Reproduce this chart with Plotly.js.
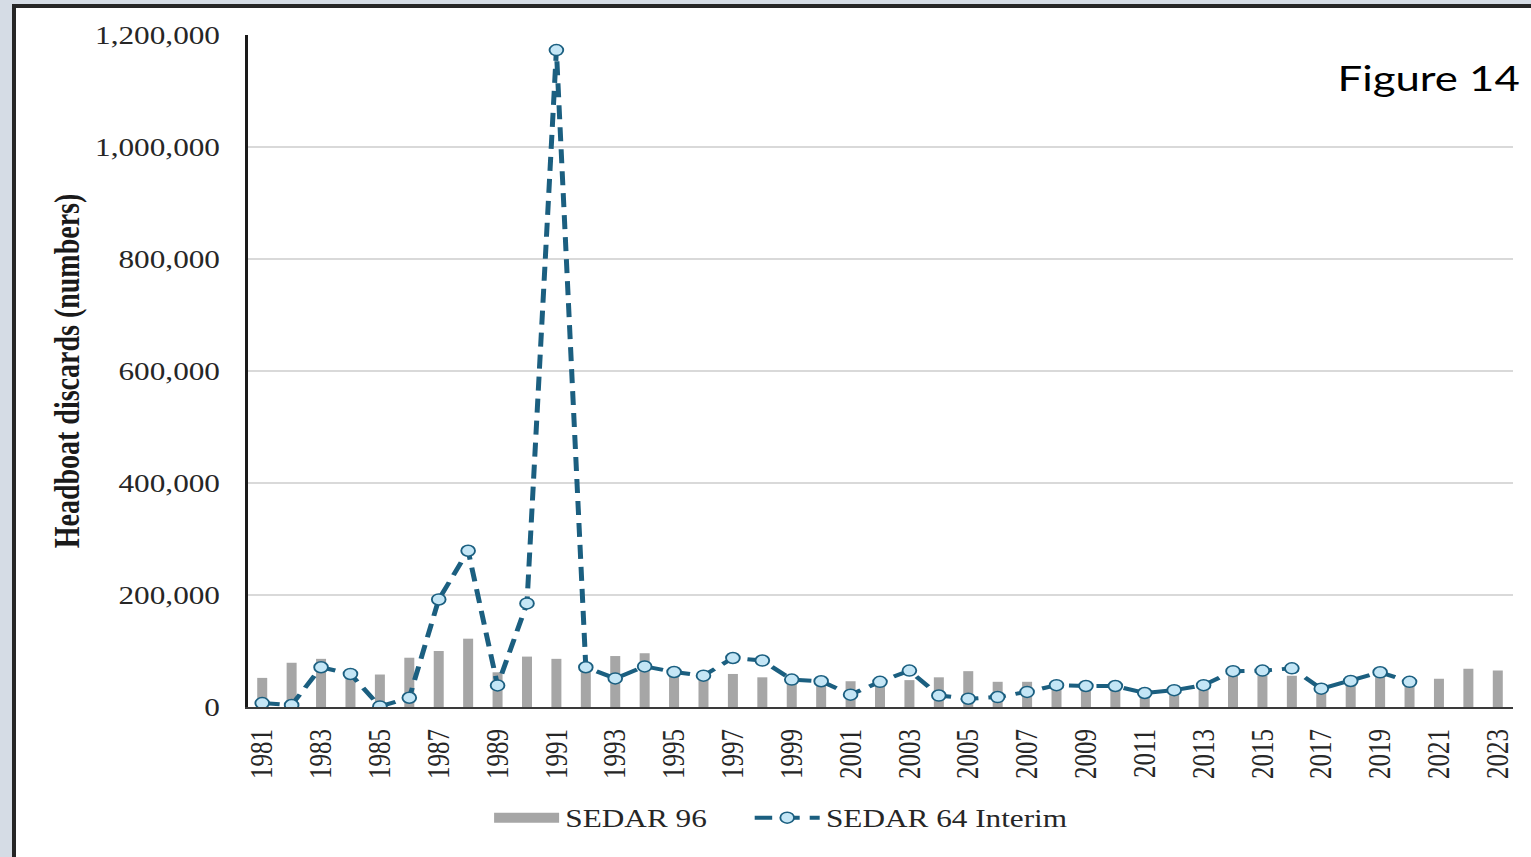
<!DOCTYPE html>
<html>
<head>
<meta charset="utf-8">
<script src="https://cdn.plot.ly/plotly-3.0.1.min.js"></script>
<style>
  html, body { margin: 0; padding: 0; width: 1531px; height: 857px; overflow: hidden; background: #d5dce5; }
  #frame { position: absolute; left: 12px; top: 4px; width: 1600px; height: 849px; border: 4px solid #262626; background: #ffffff; box-sizing: content-box; }
  #chart { position: absolute; left: 0; top: 0; width: 1225px; height: 857px; transform: scaleX(1.25); transform-origin: 0 0; }
</style>
</head>
<body>
<div id="frame"></div>
<div id="chart"></div>
<script>
// Years for SEDAR 96 bars
const barYears = [1981,1982,1983,1984,1985,1986,1987,1988,1989,1990,1991,1992,1993,1994,1995,1996,1997,1998,1999,2000,2001,2002,2003,2004,2005,2006,2007,2008,2009,2010,2011,2012,2013,2014,2015,2016,2017,2018,2019,2020,2021,2022,2023];
const sedar96 = [52000,79000,86000,62000,58000,88000,100000,122000,62000,90000,86000,72000,91000,96000,60000,52000,59000,53000,45000,40000,46000,42000,48000,53000,64000,45000,45000,36000,33000,33000,22000,25000,32000,56000,56000,56000,30000,38000,55000,42000,50500,68500,65000];

// Years for SEDAR 64 Interim line
const lineYears = [1981,1982,1983,1984,1985,1986,1987,1988,1989,1990,1991,1992,1993,1994,1995,1996,1997,1998,1999,2000,2001,2002,2003,2004,2005,2006,2007,2008,2009,2010,2011,2012,2013,2014,2015,2016,2017,2018,2019,2020];
const sedar64 = [7000,3500,71000,59000,1000,16500,192000,279000,38500,185000,1173000,71000,51000,72500,62500,56000,87500,83000,49000,46000,22000,45000,65000,20500,14800,17800,27000,39000,37500,37500,25000,30000,39000,64000,65000,69000,32700,46500,62000,45000];

const yTicks = [0,200000,400000,600000,800000,1000000,1200000];
const yTickText = ["0","200,000","400,000","600,000","800,000","1,000,000","1,200,000"];
const xTicks = [1981,1983,1985,1987,1989,1991,1993,1995,1997,1999,2001,2003,2005,2007,2009,2011,2013,2015,2017,2019,2021,2023];

const serif = "Liberation Serif, Times New Roman, serif";
const barColor = '#a6a6a6';
const lineColor = '#1b5f80';

const traces = [
  {
    type: 'bar', name: 'SEDAR 96', x: barYears, y: sedar96, legendgroup: 's96', showlegend: false,
    width: 0.34, marker: {color: barColor}, hoverinfo: 'x+y'
  },
  {
    // legend swatch for the bar series (wide grey block as in the original legend)
    type: 'scatter', mode: 'lines', name: 'SEDAR 96', x: [null], y: [null], legendgroup: 's96',
    line: {color: barColor, width: 12}, hoverinfo: 'skip', legend: 'legend'
  },
  {
    type: 'scatter', mode: 'lines+markers', name: 'SEDAR 64 Interim', x: lineYears, y: sedar64,
    legendgroup: 's64', legend: 'legend2',
    line: {color: lineColor, width: 4, dash: '14px,8px'},
    marker: {symbol: 'circle', size: 11, color: '#c4e6f6', line: {color: lineColor, width: 1.5}}
  }
];

const legendFont = {family: serif, size: 25, color: '#262626'};

const layout = {
  width: 1225, height: 857,
  margin: {l: 198.4, r: 14.6, t: 35, b: 150},
  paper_bgcolor: 'rgba(0,0,0,0)', plot_bgcolor: 'rgba(0,0,0,0)',
  font: {family: serif, size: 25, color: '#262626'},
  showlegend: true,
  legend: {
    orientation: 'h', x: 0.19, xanchor: 'left', y: -0.165, yanchor: 'middle',
    font: legendFont, itemwidth: 52, bgcolor: 'rgba(0,0,0,0)'
  },
  legend2: {
    orientation: 'h', x: 0.396, xanchor: 'left', y: -0.165, yanchor: 'middle',
    font: legendFont, itemwidth: 52, bgcolor: 'rgba(0,0,0,0)'
  },
  xaxis: {
    type: 'linear', range: [1980.5, 2023.5], tickmode: 'array', tickvals: xTicks,
    ticktext: xTicks.map(String), tickangle: -90, ticks: '', ticklabelstandoff: 10,
    showgrid: false, zeroline: false, showline: true, linecolor: '#3a3a3a', linewidth: 2,
    tickfont: {family: serif, size: 25, color: '#262626'}, fixedrange: true
  },
  yaxis: {
    range: [0, 1200000], tickmode: 'array', tickvals: yTicks, ticktext: yTickText,
    ticks: '', ticklabelstandoff: 15, showgrid: true, gridcolor: '#d9d9d9', gridwidth: 1.5,
    zeroline: false, showline: true, linecolor: '#1a1a1a', linewidth: 2,
    tickfont: {family: serif, size: 25, color: '#262626'},
    title: {text: '<b>Headboat discards (numbers)</b>', font: {family: serif, size: 28, color: '#1a1a1a'}, standoff: 4},
    automargin: false, fixedrange: true
  },
  annotations: [
    {
      text: 'Figure 14', xref: 'paper', yref: 'paper', x: 1.0076, y: 0.937,
      xanchor: 'right', yanchor: 'middle', showarrow: false,
      font: {family: 'Lato, Noto Sans, sans-serif', size: 35, color: '#000000'}
    }
  ]
};

Plotly.newPlot('chart', traces, layout, {displayModeBar: false});
</script>
</body>
</html>
